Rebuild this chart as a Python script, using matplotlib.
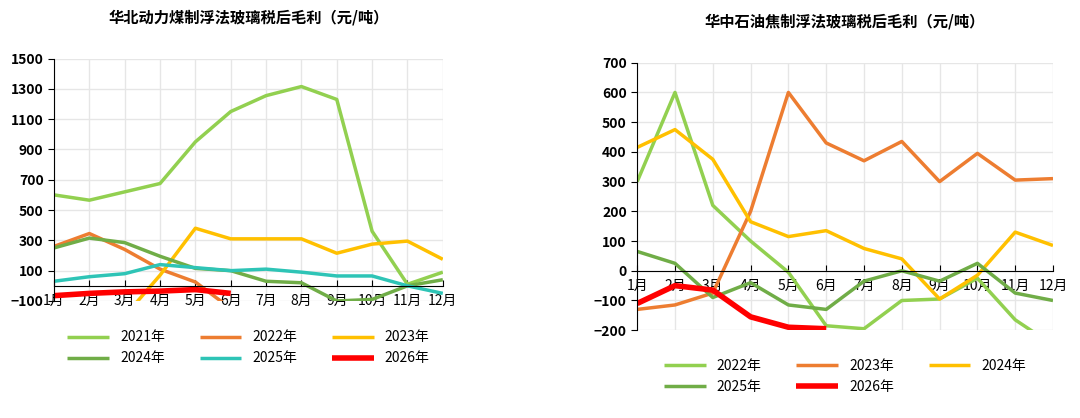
import numpy as np
import matplotlib.pyplot as plt

plt.rcParams['font.family'] = ['Noto Sans CJK SC', 'DejaVu Sans']

months = ['%d月' % i for i in range(1, 13)]
nan = np.nan

left_title = '华北动力煤制浮法玻璃税后毛利（元/吨）'
left_series = {
    '2021年': [600, 565, 620, 675, 950, 1150, 1255, 1315, 1230, 360, 10, 90],
    '2022年': [260, 345, 240, 110, 25, -150, nan, nan, nan, nan, nan, nan],
    '2023年': [nan, nan, -200, 70, 380, 310, 310, 310, 215, 275, 295, 175],
    '2024年': [250, 315, 285, 195, 115, 100, 30, 20, -100, -90, 0, 40],
    '2025年': [30, 60, 80, 140, 120, 100, 110, 90, 65, 65, 0, -50],
    '2026年': [-65, -50, -40, -35, -25, -50, nan, nan, nan, nan, nan, nan],
}
right_title = '华中石油焦制浮法玻璃税后毛利（元/吨）'
right_series = {
    '2022年': [300, 600, 220, 100, -5, -185, -195, -100, -95, -25, -165, -250],
    '2023年': [-130, -115, -75, 200, 600, 430, 370, 435, 300, 395, 305, 310],
    '2024年': [415, 475, 375, 165, 115, 135, 75, 40, -95, -15, 130, 85],
    '2025年': [65, 25, -90, -40, -115, -130, -35, 0, -35, 25, -75, -100],
    '2026年': [-110, -50, -65, -155, -190, -195, nan, nan, nan, nan, nan, nan],
}
colors = {'2021年': '#92D050', '2022年': '#ED7D31', '2023年': '#FFC000',
          '2024年': '#70AD47', '2025年': '#2EC4B6', '2026年': '#FF0000'}
right_colors = {'2022年': '#92D050', '2023年': '#ED7D31', '2024年': '#FFC000',
                '2025年': '#70AD47', '2026年': '#FF0000'}


def draw(ax, title, series, cols, ylim, step, legend_y):
    x = np.arange(12)
    for name, vals in series.items():
        ax.plot(x, vals, color=cols[name], lw=4 if name == '2026年' else 2.5,
                label=name, solid_capstyle='butt')
    ax.set_xlim(0, 11)
    ax.set_ylim(*ylim)
    ax.set_yticks(np.arange(ylim[0], ylim[1] + 1, step))
    ax.set_xticks(x)
    ax.set_xticklabels(months, fontsize=10, fontweight='bold')
    ax.grid(color='#e6e6e6', lw=1)
    ax.spines['bottom'].set_position(('data', 0))
    ax.spines['top'].set_visible(False)
    ax.spines['right'].set_visible(False)
    ax.tick_params(axis='x', direction='in', pad=6, length=4)
    ax.tick_params(axis='y', labelsize=10, length=4)
    for t in ax.get_yticklabels():
        t.set_fontweight('bold')
    ax.set_title(title, fontsize=11, fontweight='bold', pad=26)
    # row-major legend order like the original
    h, l = ax.get_legend_handles_labels()
    n = len(h)
    rows = (n + 2) // 3
    order = []
    for c in range(3):
        for r in range(rows):
            i = r * 3 + c
            if i < n:
                order.append(i)
    ax.legend([h[i] for i in order], [l[i] for i in order],
              loc='upper center', bbox_to_anchor=(0.5, legend_y), ncol=3,
              frameon=False, fontsize=10, handlelength=3, columnspacing=2.5)


fig = plt.figure(figsize=(10.8, 4.18), dpi=100)
ax1 = fig.add_axes([0.05, 0.28, 0.36, 0.58])
ax2 = fig.add_axes([0.59, 0.21, 0.385, 0.64])
draw(ax1, left_title, left_series, colors, (-100, 1500), 200, -0.07)
draw(ax2, right_title, right_series, right_colors, (-200, 700), 100, -0.06)
fig.savefig('out.png')
